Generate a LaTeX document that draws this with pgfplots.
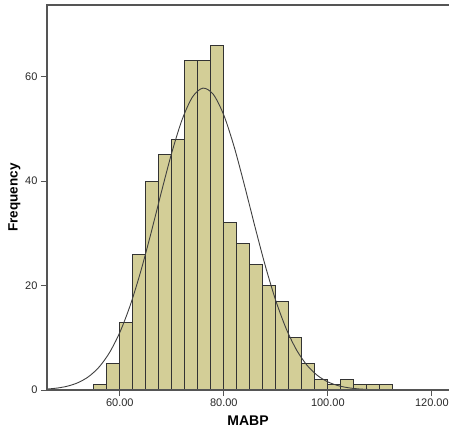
\documentclass[border=0pt]{standalone}
\usepackage{pgfplots}
\pgfplotsset{compat=1.18}
\usepackage{fontspec}
\setmainfont{Liberation Sans}
\definecolor{barfill}{RGB}{211,206,151}
\definecolor{axisgray}{RGB}{85,85,85}
\definecolor{txtgray}{RGB}{40,40,40}
\begin{document}
\begin{tikzpicture}[x=1pt,y=1pt]
\useasboundingbox (0,0) rectangle (449,433);
\begin{axis}[
  at={(47pt,43pt)}, anchor=south west,
  width=402pt, height=385pt, scale only axis,
  xmin=46, xmax=123.3, ymin=0, ymax=73.7,
  axis lines*=left,
  axis line style={draw=none},
  xtick={60,80,100,120}, ytick={0,20,40,60},
  xticklabels={60.00,80.00,100.00,120.00},
  tick align=outside, major tick length=6pt,
  tick style={axisgray, line width=1pt},
  x tick label style={font=\fontsize{11}{13}\selectfont, text=txtgray, yshift=1pt},
  y tick label style={font=\fontsize{11}{13}\selectfont, text=txtgray},
  xlabel={\textbf{MABP}}, ylabel={\textbf{Frequency}},
  xlabel style={font=\fontsize{14}{16}\selectfont, text=black, yshift=-3pt},
  ylabel style={font=\fontsize{13.5}{15}\selectfont, text=black, yshift=-2pt},
  /pgf/number format/assume math mode=true,
  clip=false,
]
\addplot[ybar interval, fill=barfill, draw=black!80, line width=0.9pt] coordinates {
(55,1) (57.5,5) (60,13) (62.5,26) (65,40) (67.5,45) (70,48) (72.5,63) (75,63) (77.5,66)
(80,32) (82.5,28) (85,24) (87.5,20) (90,17) (92.5,10) (95,5) (97.5,2) (100,1) (102.5,2)
(105,1) (107.5,1) (110,1) (112.5,1)
};
\addplot[smooth, draw=black!75, line width=0.9pt] coordinates {
(46,0.179) (48,0.376) (50,0.750) (52,1.421) (54,2.559) (56,4.381) (58,7.128) (60,11.02)
(62,16.20) (64,22.62) (66,30.04) (68,37.91) (70,45.45) (72,51.81) (74,56.13) (76,57.79)
(78,56.56) (80,52.61) (82,46.51) (84,39.07) (86,31.21) (88,23.69) (90,17.09) (92,11.72)
(94,7.636) (96,4.730) (98,2.784) (100,1.558) (102,0.828) (104,0.419) (106,0.201)
(108,0.092) (110,0.040) (114,0.005) (118,0.0004) (123,0)
};
\draw[axisgray, line width=1.2pt] (rel axis cs:1,0) -- (rel axis cs:0,0) -- (rel axis cs:0,1) -- (rel axis cs:1,1);
\end{axis}
\end{tikzpicture}
\end{document}
